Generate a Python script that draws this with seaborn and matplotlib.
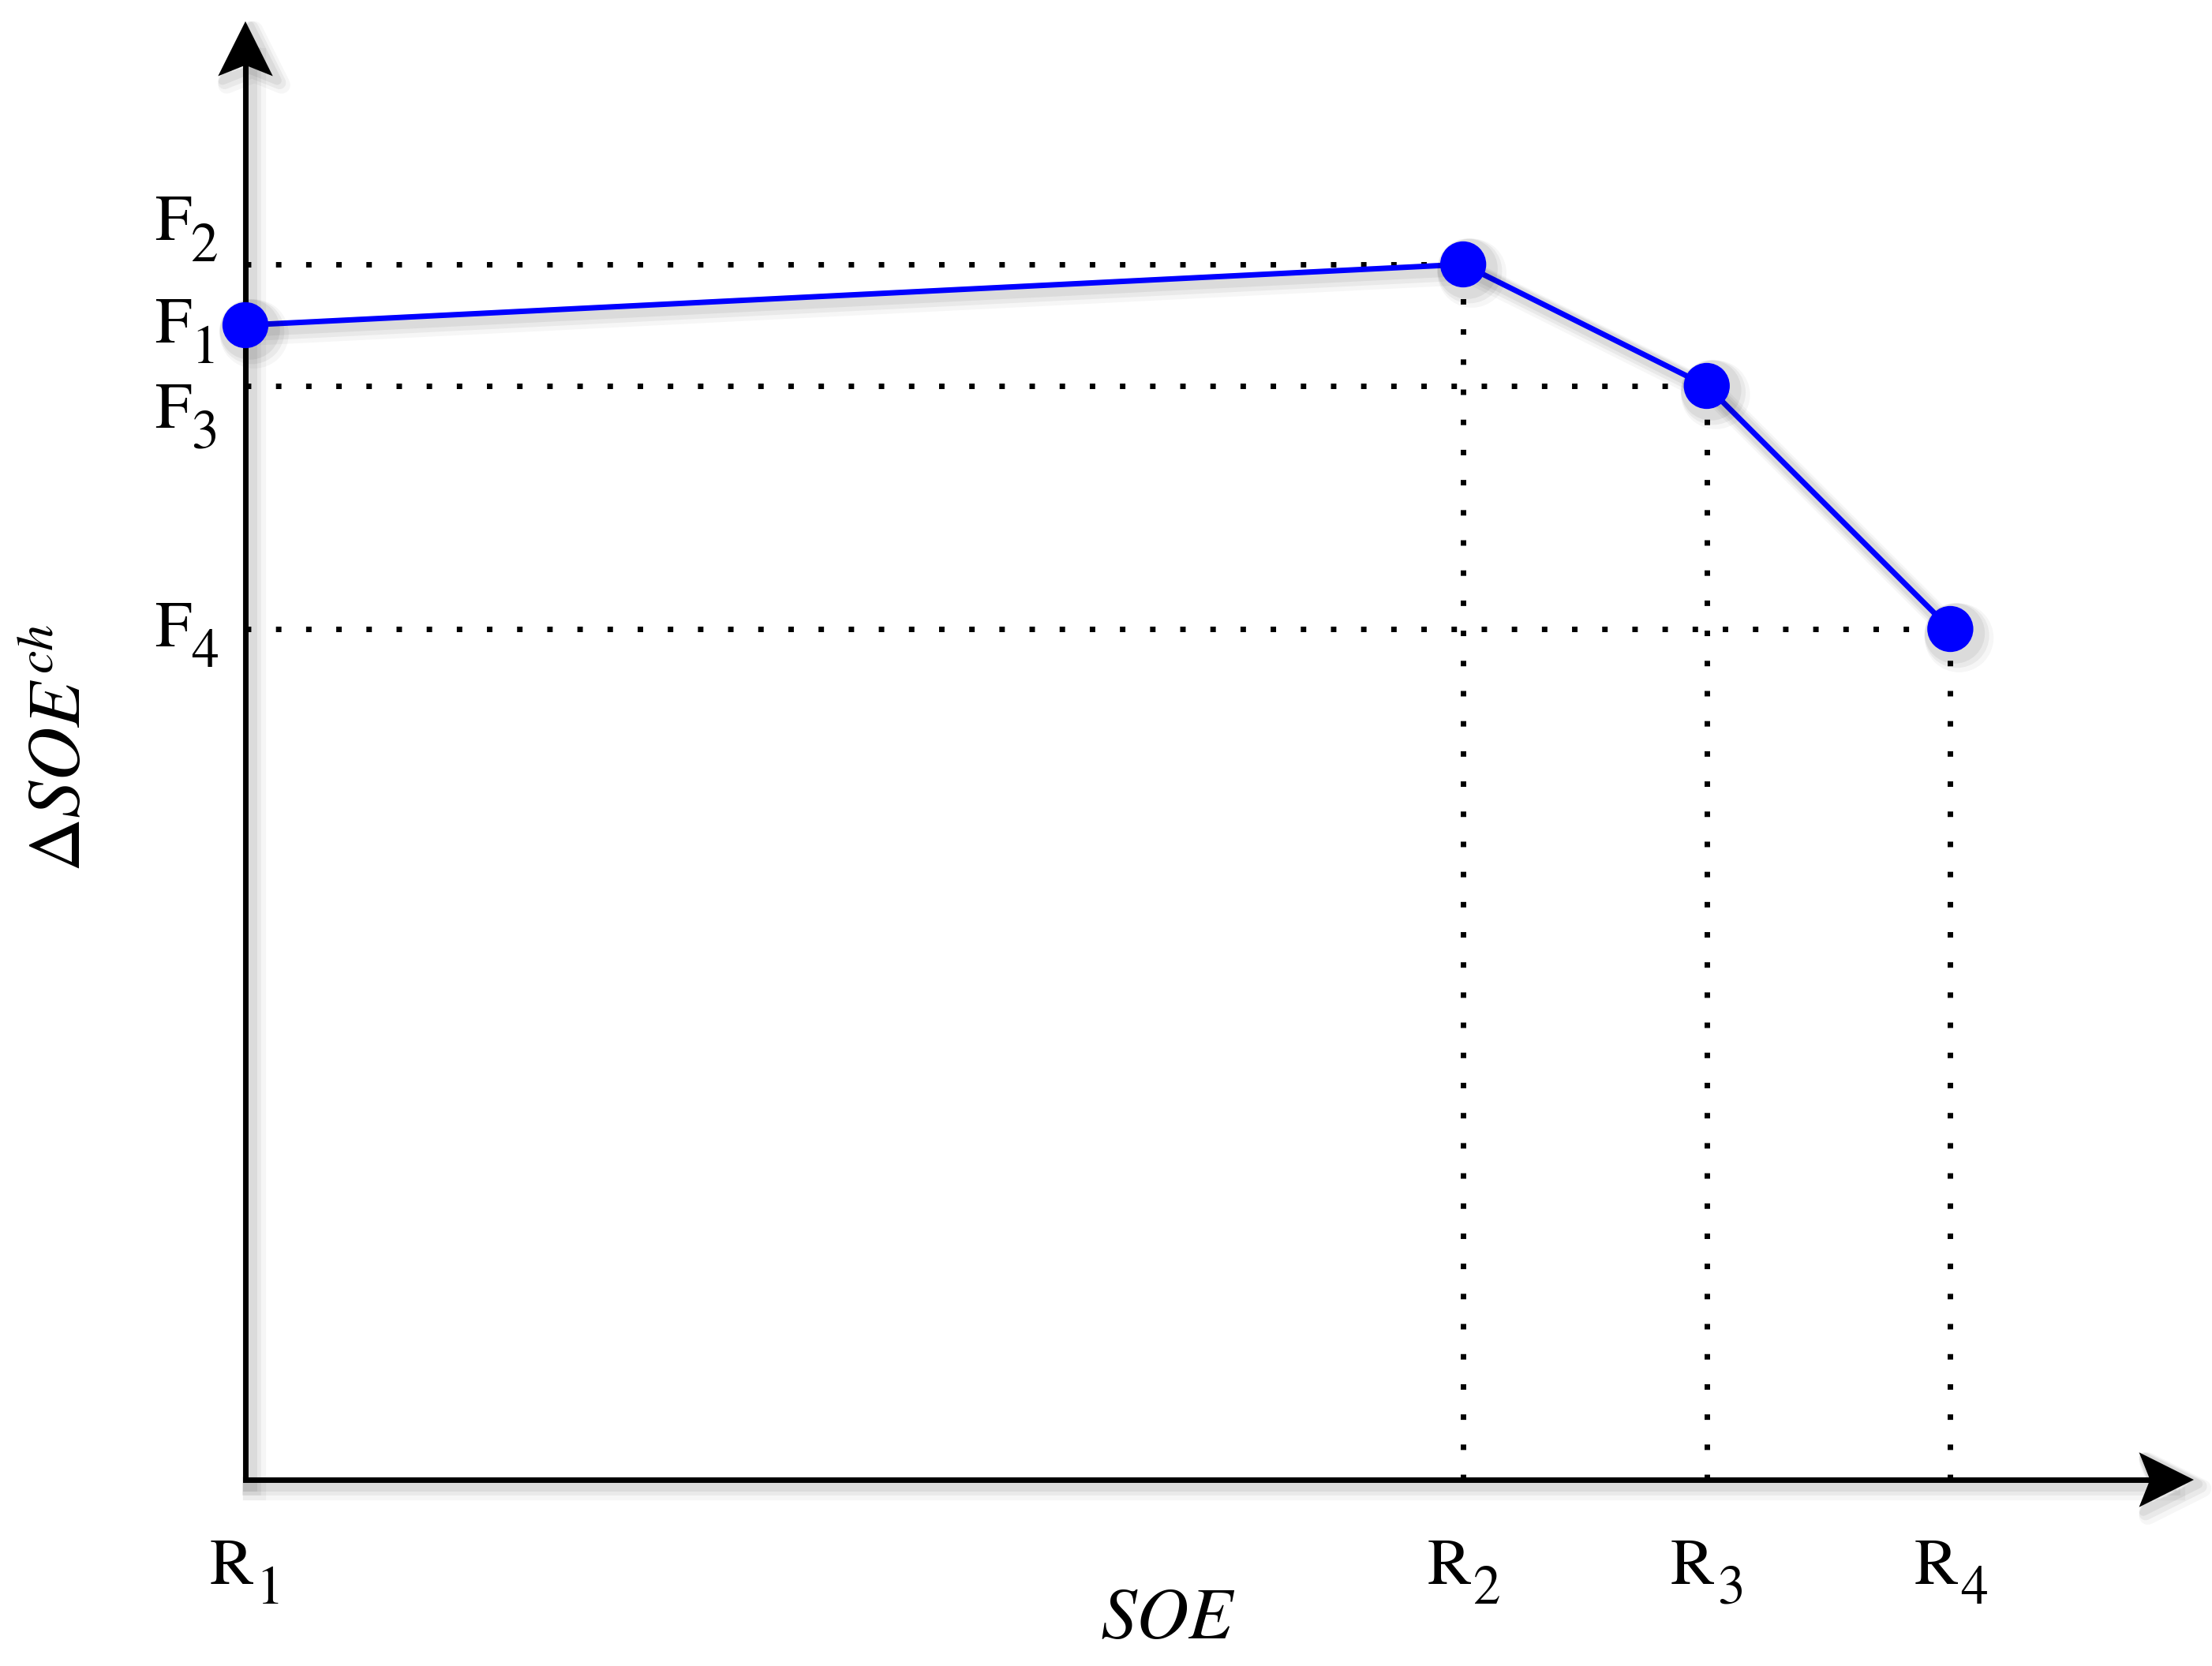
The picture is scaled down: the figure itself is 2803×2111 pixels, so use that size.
import numpy as np
import pandas as pd
import matplotlib
matplotlib.use("Agg")
import matplotlib.pyplot as plt
import matplotlib.patheffects as pe
from matplotlib.path import Path
import seaborn as sns

# breakpoints of the piecewise curve
R_vals = [0.0, 1.0, 1.2, 1.4]
F_vals = [0.95, 1.0, 0.90, 0.70]
R_subs = ["1", "2", "3", "4"]
F_subs = ["1", "2", "3", "4"]

df = pd.DataFrame({"SOE": R_vals, "dSOE": F_vals})

sns.set_theme(style="white")
plt.rcParams["font.family"] = ["STIXGeneral", "DejaVu Serif"]
plt.rcParams["mathtext.fontset"] = "stix"
plt.rcParams["text.color"] = "black"

W, H = 2803, 2111
fig = plt.figure(figsize=(W / 200, H / 200), dpi=200)
fig.patch.set_facecolor("white")
x0, y0 = 311, 1875
ax = fig.add_axes([x0 / W, (H - y0) / H, (2780 - x0) / W, (y0 - 27) / H])
xmax, ymax = 1.6, 1.2
ax.set_xlim(0, xmax)
ax.set_ylim(0, ymax)
for s in ax.spines.values():
    s.set_visible(False)
ax.set_facecolor("none")

# soft drop shadow, faked with a few offset layers
def shadow(lw):
    fx = []
    for k, a in [(4, 0.035), (3, 0.05), (2, 0.06)]:
        fx.append(pe.SimpleLineShadow(offset=(k, -k), shadow_color="black", alpha=a,
                                      linewidth=lw + 2 * k))
    fx.append(pe.Normal())
    return fx

# dotted guide lines
dot = (0, (1, 4.5))
ax.hlines(F_vals[1:], 0, R_vals[1:], colors="black", linestyles=[dot], lw=2.5, zorder=1)
ax.vlines(R_vals[1:], 0, F_vals[1:], colors="black", linestyles=[dot], lw=2.5, zorder=1)

# axes with stealth-style arrow heads
head_r = Path([(0, 0), (-2, 1), (-1.6, 0), (-2, -1), (0, 0)],
              [Path.MOVETO, Path.LINETO, Path.LINETO, Path.LINETO, Path.CLOSEPOLY])
head_u = Path([(0, 0), (1, -2), (0, -1.6), (-1, -2), (0, 0)],
              [Path.MOVETO, Path.LINETO, Path.LINETO, Path.LINETO, Path.CLOSEPOLY])
ax.plot([0, xmax * 0.985], [0, 0], color="black", lw=2.5, solid_capstyle="projecting",
        clip_on=False, zorder=3, path_effects=shadow(2.5))
ax.plot([0, 0], [0, ymax * 0.98], color="black", lw=2.5, solid_capstyle="projecting",
        clip_on=False, zorder=3, path_effects=shadow(2.5))
ax.plot([xmax], [0], marker=head_r, ms=50, color="black", mew=0, clip_on=False, zorder=3,
        path_effects=shadow(0))
ax.plot([0], [ymax], marker=head_u, ms=50, color="black", mew=0, clip_on=False, zorder=3,
        path_effects=shadow(0))

sns.lineplot(data=df, x="SOE", y="dSOE", color="blue", lw=2.5, marker="o", markersize=21,
             markeredgewidth=0, ax=ax, zorder=5, clip_on=False, path_effects=shadow(2.5))
ax.set_xticks([])
ax.set_yticks([])
ax.set_xlabel("")
ax.set_ylabel("")

# tick-style labels: big letter plus a large, low subscript
F_base = [-8, 11, -19, -8]   # baseline offsets (pt) of the letter relative to the level
for f, sub, dy in zip(F_vals, F_subs, F_base):
    ax.annotate("F", xy=(0, f), xytext=(-24.5, dy), textcoords="offset points",
                ha="right", va="baseline", fontsize=30, annotation_clip=False)
    ax.annotate(sub, xy=(0, f), xytext=(-18.5, dy - 9.4), textcoords="offset points",
                ha="center", va="baseline", fontsize=25, annotation_clip=False)
for r, sub in zip(R_vals, R_subs):
    ax.annotate("R", xy=(r, 0), xytext=(-6.5, -47.5), textcoords="offset points",
                ha="center", va="baseline", fontsize=30, annotation_clip=False)
    ax.annotate(sub, xy=(r, 0), xytext=(11, -56.5), textcoords="offset points",
                ha="center", va="baseline", fontsize=25, annotation_clip=False)

# axis titles
ax.text(0.4735, -0.0974, r"$SOE$", transform=ax.transAxes, fontsize=33,
        ha="center", va="center")
ax.text(-0.0936, 0.502, r"$\Delta SOE^{ch}$", transform=ax.transAxes, fontsize=34,
        ha="center", va="center", rotation=90)

fig.savefig("out.png", dpi=200, facecolor="white")
